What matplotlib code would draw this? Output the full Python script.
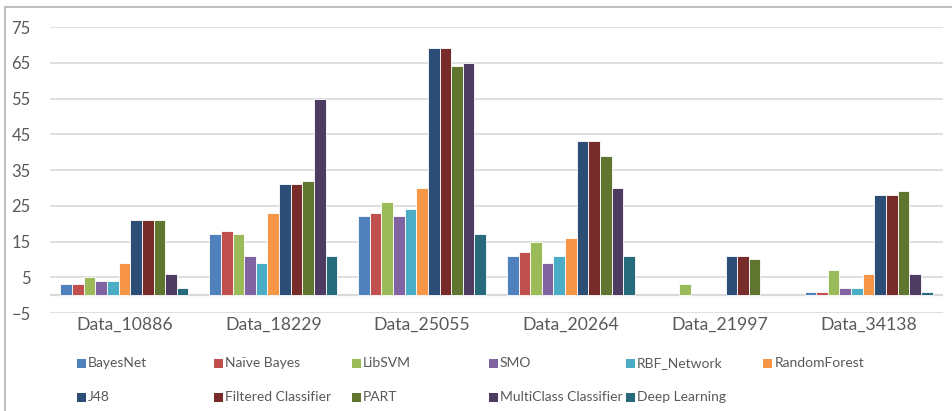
import numpy as np
import matplotlib.pyplot as plt
from matplotlib.patches import Rectangle

plt.rcParams['font.family'] = ['Lato', 'DejaVu Sans']

# datasets and classifiers
datasets = ['Data_10886', 'Data_18229', 'Data_25055', 'Data_20264', 'Data_21997', 'Data_34138']
classifiers = ['BayesNet', 'Naïve Bayes', 'LibSVM', 'SMO', 'RBF_Network', 'RandomForest',
               'J48', 'Filtered Classifier', 'PART', 'MultiClass Classifier', 'Deep Learning']

# one list per classifier, one value per dataset
bayesnet = [3, 17, 22, 11, 0, 1]
naive_bayes = [3, 18, 23, 12, 0, 1]
libsvm = [5, 17, 26, 15, 3, 7]
smo = [4, 11, 22, 9, 0, 2]
rbf_network = [4, 9, 24, 11, 0, 2]
random_forest = [9, 23, 30, 16, 0, 6]
j48 = [21, 31, 69, 43, 11, 28]
filtered = [21, 31, 69, 43, 11, 28]
part = [21, 32, 64, 39, 10, 29]
multiclass = [6, 55, 65, 30, 0, 6]
deep_learning = [2, 11, 17, 11, 0, 1]

valores = [bayesnet, naive_bayes, libsvm, smo, rbf_network, random_forest,
           j48, filtered, part, multiclass, deep_learning]

colores = ['#4F81BD', '#C0504D', '#9BBB59', '#8064A2', '#4BACC6', '#F79646',
           '#2C4D75', '#772C2A', '#5F7530', '#4D3B62', '#276A7C']

texto = '#595959'
rejilla = '#D9D9D9'

fig = plt.figure(figsize=(9.53, 4.11), dpi=100)
ax = fig.add_axes([0.0525, 0.2384, 0.937, 0.6959])

x = np.arange(len(datasets))
n = len(classifiers)
ancho = 0.86 / n  # ancho de cada barra dentro del grupo

for i, (serie, color) in enumerate(zip(valores, colores)):
    pos = x - 0.43 + ancho * (i + 0.5)
    # sin borde blanco en las barras de valor cero
    bordes = [0.6 if v else 0 for v in serie]
    ax.bar(pos, serie, width=ancho, color=color, edgecolor='white', linewidth=bordes, zorder=3)

ax.set_xlim(-0.5, len(datasets) - 0.5)
ax.set_ylim(-5, 75)
ax.set_yticks(np.arange(-5, 76, 10))
ax.yaxis.grid(True, color=rejilla, linewidth=1.2, zorder=0)
ax.axhline(0, color=rejilla, linewidth=1.6, zorder=2)

for s in ax.spines.values():
    s.set_visible(False)

ax.set_xticks(x)
ax.set_xticklabels(datasets)
ax.tick_params(axis='both', length=0, labelsize=12, labelcolor=texto)
ax.tick_params(axis='x', pad=3, labelsize=12.7)
ax.tick_params(axis='y', pad=14)

# leyenda en dos filas con columnas de ancho fijo
fw, fh = 953, 411
for i, (nombre, color) in enumerate(zip(classifiers, colores)):
    col, fila = i % 6, i // 6
    px = 77 + col * 137.3
    py = 363 + fila * 34
    fig.patches.append(Rectangle((px / fw, (fh - py - 4.5) / fh), 9 / fw, 9 / fh,
                                 transform=fig.transFigure, facecolor=color,
                                 edgecolor='none'))
    fig.text((px + 11) / fw, (fh - py) / fh, nombre, fontsize=10, color=texto,
             va='center', ha='left')

# marco del grafico
fig.patches.append(Rectangle((5 / fw, -0.05), 1.2, (fh - 7) / fh + 0.05,
                             transform=fig.transFigure, facecolor='none',
                             edgecolor='#BFBFBF', linewidth=1.5))

fig.savefig('out.png', dpi=100)
